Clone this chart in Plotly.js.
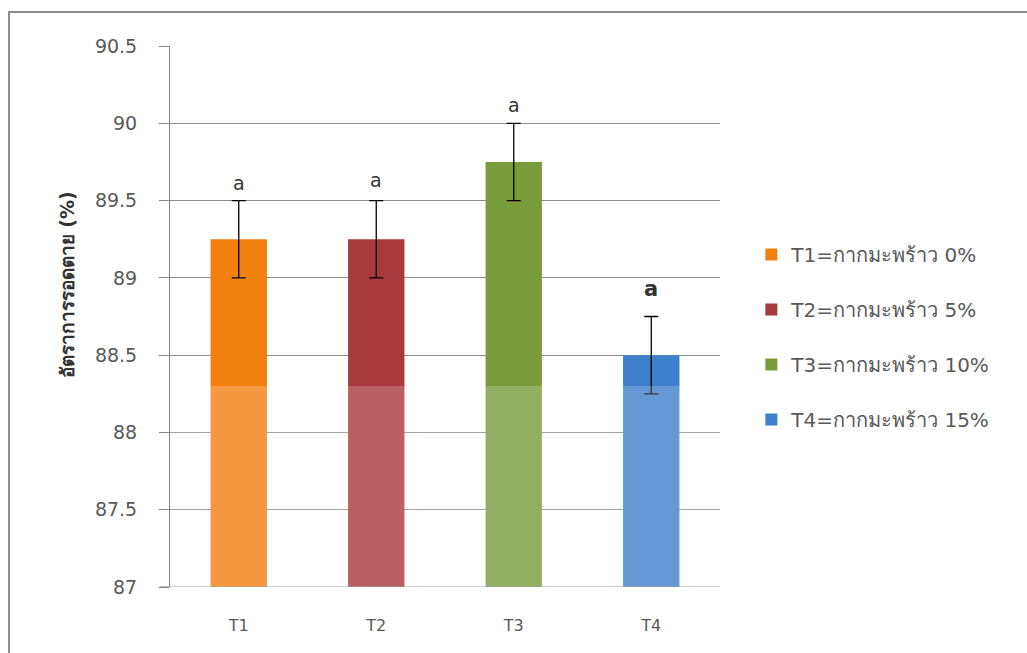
<!DOCTYPE html>
<html>
<head>
<meta charset="utf-8">
<script src="https://cdn.plot.ly/plotly-3.0.1.min.js"></script>
<style>
  html, body { margin: 0; padding: 0; background: #fff; }
  #wrap { position: relative; width: 1027px; height: 653px; }
  #chart { position: absolute; left: 0; top: 0; width: 1027px; height: 653px; }
  #frame { position: absolute; left: 8px; top: 11px; width: 1030px; height: 650px;
           border-left: 2px solid #8f8f8f; border-top: 2px solid #8f8f8f; pointer-events: none; }
</style>
</head>
<body>
<div id="wrap">
  <div id="chart"></div>
  <div id="frame"></div>
</div>
<script>
const categories = ['T1', 'T2', 'T3', 'T4'];
const values = [89.25, 89.25, 89.75, 88.5];
const errors = [0.25, 0.25, 0.25, 0.25];
const legendNames = ['T1=กากมะพร้าว 0%', 'T2=กากมะพร้าว 5%', 'T3=กากมะพร้าว 10%', 'T4=กากมะพร้าว 15%'];
const letters = ['a', 'a', 'a', 'a'];
const yTitle = 'อัตราการรอดตาย (%)';
const yTickVals = [87, 87.5, 88, 88.5, 89, 89.5, 90, 90.5];
const yTickText = ['87', '87.5', '88', '88.5', '89', '89.5', '90', '90.5'];

const colors = ['#F2800F', '#A8393C', '#7A9B3C', '#3F80CC'];
const letterShift = [5, 8, 5, 14];
const letterBold = [false, false, false, true];

const traces = categories.map((c, i) => ({
  type: 'bar',
  x: [c],
  y: [values[i]],
  name: legendNames[i],
  legendgroup: 'g' + i,
  marker: { color: colors[i], line: { width: 0 } },
  width: 0.41,
  error_y: { type: 'data', array: [errors[i]], visible: true, color: '#000', thickness: 1.3, width: 7 },
  hoverinfo: 'none'
}));

const annotations = categories.map((c, i) => ({
  x: c, y: values[i] + errors[i], xref: 'x', yref: 'y',
  text: letterBold[i] ? '<b>' + letters[i] + '</b>' : letters[i],
  showarrow: false, yanchor: 'bottom', yshift: letterShift[i],
  font: { family: 'DejaVu Sans, sans-serif', size: letterBold[i] ? 21 : 19, color: '#333' }
}));

annotations.push({
  xref: 'paper', yref: 'paper', x: -0.187, y: 0.558,
  xanchor: 'center', yanchor: 'middle', textangle: -90, showarrow: false,
  text: '<b>' + yTitle + '</b>',
  font: { family: 'DejaVu Sans, sans-serif', size: 19, color: '#333' }
});

const layout = {
  width: 1027, height: 653,
  margin: { l: 170, r: 307, t: 46, b: 66 },
  paper_bgcolor: '#fff', plot_bgcolor: '#fff',
  barmode: 'overlay',
  showlegend: true,
  legend: {
    x: 1.057, y: 0.462, xanchor: 'left', yanchor: 'middle',
    traceorder: 'grouped', tracegroupgap: 26,
    font: { family: 'DejaVu Sans, sans-serif', size: 20, color: '#595959' },
    bgcolor: 'rgba(0,0,0,0)'
  },
  xaxis: {
    type: 'category', categoryorder: 'array', categoryarray: categories,
    showline: false, showgrid: false, ticks: '', zeroline: false,
    tickfont: { family: 'DejaVu Sans, sans-serif', size: 16, color: '#595959' },
    ticklabelstandoff: 27,
    fixedrange: true
  },
  yaxis: {
    range: [87, 90.5], tickvals: yTickVals, ticktext: yTickText,
    showline: true, linecolor: '#868686', linewidth: 1,
    showgrid: true, gridcolor: '#8c8c8c', gridwidth: 1,
    ticks: 'outside', ticklen: 10, tickcolor: '#868686',
    ticklabelstandoff: 18,
    tickfont: { family: 'DejaVu Sans, sans-serif', size: 19, color: '#595959' },
    zeroline: false,
    fixedrange: true
  },
  shapes: [
    { type: 'line', xref: 'paper', yref: 'y', x0: -0.018, x1: 1, y0: 87, y1: 87,
      line: { color: '#868686', width: 1 }, layer: 'above' },
    { type: 'rect', xref: 'paper', yref: 'y', x0: 0.002, x1: 1, y0: 87, y1: 88.3,
      fillcolor: 'rgba(255,255,255,0.2)', line: { width: 0 }, layer: 'above' }
  ],
  annotations: annotations
};

Plotly.newPlot('chart', traces, layout, { displayModeBar: false, staticPlot: true });
</script>
</body>
</html>
